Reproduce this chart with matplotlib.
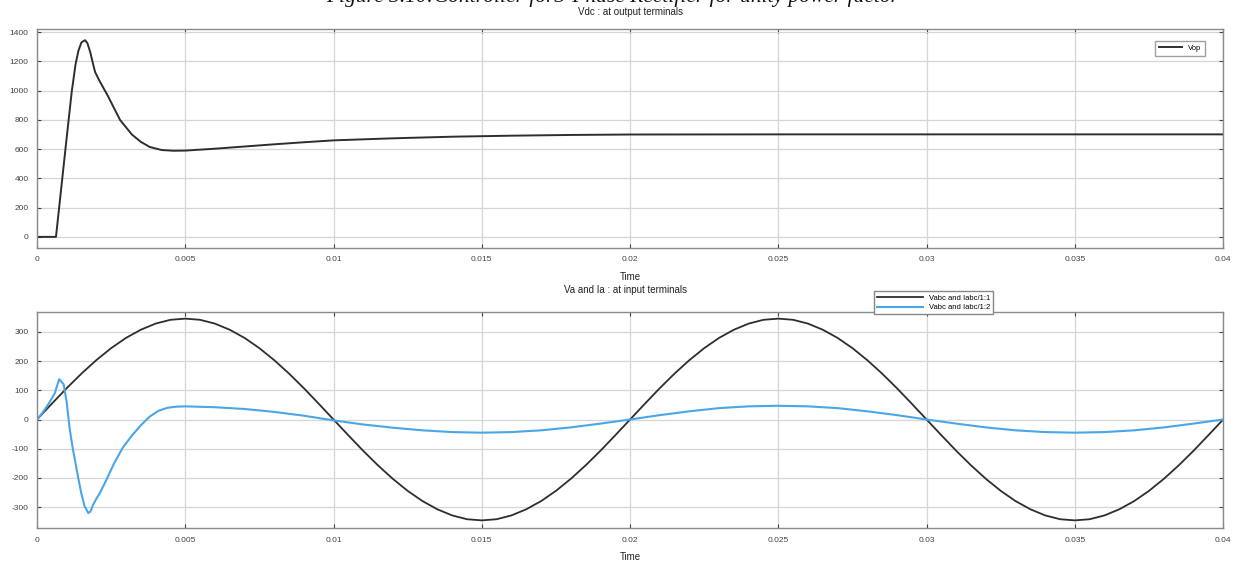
import numpy as np
import matplotlib
matplotlib.use('Agg')
import matplotlib.pyplot as plt

### Data
# Vdc at output terminals (time in s, volts)
vdc_t = [0, 0.00064, 0.0008, 0.001, 0.00117, 0.0013, 0.0014, 0.0015, 0.00162, 0.0017,
         0.0018, 0.0019, 0.00196, 0.0021, 0.0024, 0.0028, 0.0032, 0.0035, 0.0038, 0.0042,
         0.0046, 0.005, 0.006, 0.007, 0.008, 0.009, 0.01, 0.012, 0.014, 0.016, 0.018,
         0.02, 0.025, 0.03, 0.035, 0.04]
vdc_v = [0, 0, 300, 676, 990, 1180, 1275, 1330, 1345, 1325,
         1260, 1175, 1127, 1070, 960, 800, 700, 650, 615, 594,
         589, 590, 603, 618, 633, 647, 660, 674, 685, 692, 697,
         700, 701, 701, 701, 701]

# Va (phase voltage) sampled every 0.0005 s
va_t = [i * 0.0005 for i in range(81)]
va_v = [0, 54, 107, 157, 203, 244, 279, 307, 328, 341,
        345, 341, 328, 307, 279, 244, 203, 157, 107, 54,
        0, -54, -107, -157, -203, -244, -279, -307, -328, -341,
        -345, -341, -328, -307, -279, -244, -203, -157, -107, -54,
        0, 54, 107, 157, 203, 244, 279, 307, 328, 341,
        345, 341, 328, 307, 279, 244, 203, 157, 107, 54,
        0, -54, -107, -157, -203, -244, -279, -307, -328, -341,
        -345, -341, -328, -307, -279, -244, -203, -157, -107, -54,
        0]

# Ia (phase current, scaled)
ia_t = [0, 0.0002, 0.0004, 0.0006, 0.00075, 0.0009, 0.001, 0.0011, 0.0012, 0.0013,
        0.0014, 0.0015, 0.0016, 0.00173, 0.0018, 0.0019, 0.00202, 0.0021, 0.0023, 0.0026,
        0.0029, 0.0032, 0.0035, 0.0038, 0.0041, 0.0044, 0.0047, 0.005,
        0.006, 0.007, 0.008, 0.009, 0.01, 0.011, 0.012, 0.013, 0.014, 0.015,
        0.016, 0.017, 0.018, 0.019, 0.02, 0.021, 0.022, 0.023, 0.024, 0.025,
        0.026, 0.027, 0.028, 0.029, 0.03, 0.031, 0.032, 0.033, 0.034, 0.035,
        0.036, 0.037, 0.038, 0.039, 0.04]
ia_v = [0, 25, 55, 90, 138, 120, 60, -30, -95, -150,
        -205, -255, -295, -320, -315, -290, -268, -255, -215, -150,
        -95, -55, -20, 10, 30, 40, 44, 45,
        42, 36, 26, 13, -3, -17, -28, -37, -43, -45,
        -43, -37, -27, -14, 0, 15, 28, 39, 45, 47,
        45, 39, 28, 15, 0, -14, -27, -37, -43, -45,
        -43, -37, -27, -14, 0]

x_ticks = [0, 0.005, 0.01, 0.015, 0.02, 0.025, 0.03, 0.035, 0.04]
x_labels = ['0', '0.005', '0.01', '0.015', '0.02', '0.025', '0.03', '0.035', '0.04']
top_yticks = [0, 200, 400, 600, 800, 1000, 1200, 1400]
bot_yticks = [-300, -200, -100, 0, 100, 200, 300]

plt.rcParams['font.family'] = ['Liberation Sans', 'DejaVu Sans']
plt.rcParams['axes.unicode_minus'] = False

fig = plt.figure(figsize=(12.33, 5.62), dpi=100)
ax1 = fig.add_axes([0.030, 0.559, 0.962, 0.389])
ax2 = fig.add_axes([0.030, 0.060, 0.962, 0.385])

# common scope styling
def style_axes(ax):
    ax.set_xlim(0, 0.04)
    ax.set_xticks(x_ticks)
    ax.set_xticklabels(x_labels)
    ax.grid(True, color='#d6d6d6', linewidth=0.9)
    ax.set_axisbelow(True)
    ax.tick_params(direction='in', length=3, labelsize=6, colors='#444444',
                   top=True, right=True, pad=6)
    for s in ax.spines.values():
        s.set_color('#8a8a8a')
        s.set_linewidth(1.0)
    ax.set_xlabel('Time', fontsize=7, color='#222222', labelpad=6)

ax1.plot(vdc_t, vdc_v, color='#2e2e2e', linewidth=1.4, label='Vop')
ax1.set_ylim(-75, 1420)
ax1.set_yticks(top_yticks)
style_axes(ax1)
ax1.legend(loc='center', bbox_to_anchor=(0.957, 0.914), bbox_transform=fig.transFigure,
           fontsize=5.5, frameon=True, fancybox=False, edgecolor='#888888',
           handlelength=3, borderpad=0.5)

ax2.plot(va_t, va_v, color='#2e2e2e', linewidth=1.3, label='Vabc and Iabc/1:1')
ax2.plot(ia_t, ia_v, color='#4aa6e6', linewidth=1.5, label='Vabc and Iabc/1:2')
ax2.set_ylim(-372, 368)
ax2.set_yticks(bot_yticks)
style_axes(ax2)
leg = ax2.legend(loc='center', bbox_to_anchor=(0.757, 0.461), bbox_transform=fig.transFigure,
                 fontsize=5.5, frameon=True, fancybox=False, edgecolor='#888888',
                 handlelength=6, borderpad=0.4, labelspacing=0.3)
leg.get_frame().set_alpha(1.0)

fig.text(0.511, 0.978, 'Vdc : at output terminals', ha='center', va='center',
         fontsize=7, color='#222222')
fig.text(0.507, 0.484, 'Va and Ia : at input terminals', ha='center', va='center',
         fontsize=7, color='#222222')

# caption of the document page, cut off at the top edge
fig.text(0.497, 0.996, 'Figure 3.10:Controller for3-Phase Rectifier for unity power factor',
         ha='center', va='baseline', fontsize=15.5, style='italic',
         family=['Liberation Serif', 'DejaVu Serif'], color='#111111')

fig.savefig('out.png', dpi=100)
